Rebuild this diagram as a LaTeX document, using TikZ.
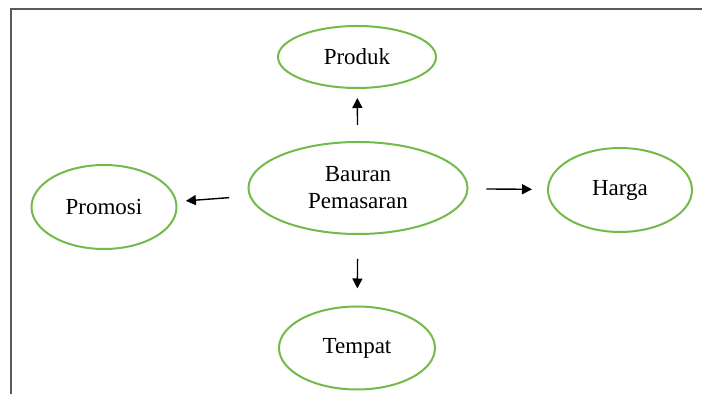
\documentclass[tikz,border=0pt]{standalone}
\usepackage{fontspec}
\setmainfont{Liberation Serif}
\usetikzlibrary{shapes.geometric,arrows.meta}
\definecolor{mixgreen}{RGB}{114,186,74}
\definecolor{framegray}{RGB}{90,90,90}

\begin{document}
\begin{tikzpicture}[x={(0.5pt,0)}, y={(0,-0.5pt)},
    mixnode/.style={draw=mixgreen, line width=1pt, shape=ellipse, inner sep=0pt, align=center, font=\fontsize{11.5}{13.5}\selectfont},
    mixarrow/.style={-{Triangle[length=5pt,width=5pt]}, line width=0.7pt, black}]
            \useasboundingbox (0,0) rectangle (702,394);
            \draw[framegray, line width=1pt] (11,394) -- (11,9) -- (702,9);
            \node[mixnode, minimum width=109.5pt, minimum height=46pt] (B) at (358,188) {Bauran \\ Pemasaran};
            \node[mixnode, minimum width=79pt, minimum height=31pt] (P1) at (357,57) {Produk};
            \node[mixnode, minimum width=72.5pt, minimum height=42pt] (P2) at (104,207) {Promosi};
            \node[mixnode, minimum width=72pt, minimum height=42pt] (H) at (620,190) {Harga};
            \node[mixnode, minimum width=78pt, minimum height=41.5pt] (T) at (357,348) {Tempat};
            \draw[mixarrow, shorten <=8pt, shorten >=4.5pt] (B) -- (P1);
            \draw[mixarrow, shorten <=10pt, shorten >=4.5pt] (B) -- (P2);
            \draw[mixarrow, shorten <=9pt, shorten >=7.5pt] (B) -- (H);
            \draw[mixarrow, shorten <=12pt, shorten >=8.5pt] (B) -- (T);
        \end{tikzpicture}
\end{document}
